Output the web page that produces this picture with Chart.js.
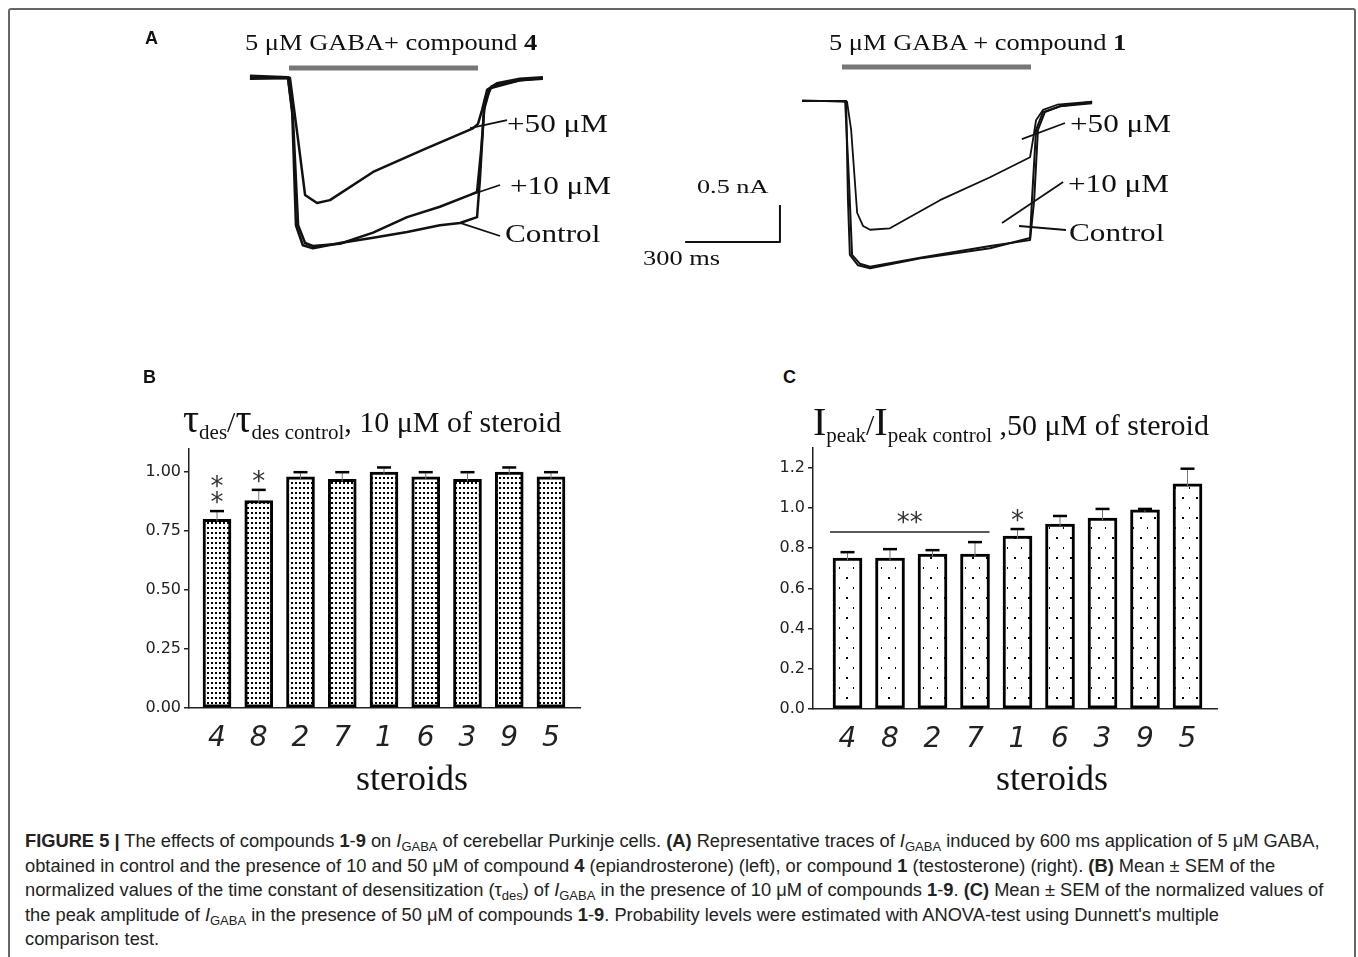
<!DOCTYPE html>
<html>
<head>
<meta charset="utf-8">
<script src="https://cdn.jsdelivr.net/npm/chart.js@4.4.0/dist/chart.umd.min.js"></script>
<style>
body{margin:0;background:#fff;}
#fig{position:relative;width:1358px;height:957px;overflow:hidden;font-family:"Liberation Serif",serif;color:#111;}
#frame{position:absolute;left:8px;top:8px;width:1344px;height:1000px;border:2px solid #666;border-radius:3px;}
canvas{position:absolute;}
.t{position:absolute;white-space:nowrap;line-height:1;}
.sx{display:inline-block;transform-origin:0 50%;}
.lab{position:absolute;font-family:"Liberation Sans",sans-serif;font-weight:bold;font-size:18px;line-height:1;}
.ttl{position:absolute;white-space:nowrap;font-size:30px;line-height:40px;}
.ttl .big{font-size:40px;}
.ttl sub{font-size:21px;vertical-align:-7px;}
.axt{position:absolute;width:200px;text-align:center;font-size:36px;line-height:1;}
.cap{position:absolute;left:25px;font-family:"Liberation Sans",sans-serif;font-size:18.3px;line-height:1;white-space:nowrap;color:#222;}
.cap sub{font-size:13px;vertical-align:-4px;line-height:0;}
</style>
</head>
<body>
<div id="fig">
<div id="frame"></div>

<canvas id="cA1" width="500" height="270" style="left:140px;top:20px;width:500px;height:270px"></canvas>
<canvas id="cA2" width="560" height="270" style="left:640px;top:20px;width:560px;height:270px"></canvas>
<canvas id="cB" width="460" height="344" style="left:130px;top:436px;width:460px;height:344px"></canvas>
<canvas id="cC" width="457" height="345" style="left:770px;top:435px;width:457px;height:345px"></canvas>

<div class="lab" style="left:145px;top:29px">A</div>
<div class="lab" style="left:143px;top:368px">B</div>
<div class="lab" style="left:783px;top:368px">C</div>

<div class="t" style="left:245px;top:31px;font-size:23px"><span class="sx" style="transform:scaleX(1.15)">5 μM GABA+ compound <b>4</b></span></div>
<div class="t" style="left:829px;top:31px;font-size:23px"><span class="sx" style="transform:scaleX(1.15)">5 μM GABA + compound <b>1</b></span></div>

<div class="t" style="left:507px;top:111px;font-size:26px"><span class="sx" style="transform:scaleX(1.2)">+50 μM</span></div>
<div class="t" style="left:510px;top:173px;font-size:26px"><span class="sx" style="transform:scaleX(1.2)">+10 μM</span></div>
<div class="t" style="left:505px;top:221px;font-size:26px"><span class="sx" style="transform:scaleX(1.2)">Control</span></div>
<div class="t" style="left:1070px;top:111px;font-size:26px"><span class="sx" style="transform:scaleX(1.2)">+50 μM</span></div>
<div class="t" style="left:1068px;top:171px;font-size:26px"><span class="sx" style="transform:scaleX(1.2)">+10 μM</span></div>
<div class="t" style="left:1069px;top:220px;font-size:26px"><span class="sx" style="transform:scaleX(1.2)">Control</span></div>
<div class="t" style="left:697px;top:177px;font-size:19px"><span class="sx" style="transform:scaleX(1.38)">0.5 nA</span></div>
<div class="t" style="left:643px;top:248px;font-size:20px"><span class="sx" style="transform:scaleX(1.32)">300 ms</span></div>

<div class="ttl" style="left:183px;top:399px"><span class="big">τ</span><sub>des</sub>/<span class="big">τ</span><sub>des control</sub>, 10 μM of steroid</div>
<div class="ttl" style="left:813px;top:402px"><span class="big">I</span><sub>peak</sub>/<span class="big">I</span><sub>peak control</sub> ,50 μM of steroid</div>
<div class="axt" style="left:312px;top:760px">steroids</div>
<div class="axt" style="left:952px;top:760px">steroids</div>

<div class="cap" style="top:832px"><b>FIGURE 5 |</b> The effects of compounds <b>1</b>-<b>9</b> on <i>I</i><sub>GABA</sub> of cerebellar Purkinje cells. <b>(A)</b> Representative traces of <i>I</i><sub>GABA</sub> induced by 600 ms application of 5 μM GABA,</div>
<div class="cap" style="top:857px">obtained in control and the presence of 10 and 50 μM of compound <b>4</b> (epiandrosterone) (left), or compound <b>1</b> (testosterone) (right). <b>(B)</b> Mean ± SEM of the</div>
<div class="cap" style="top:881px">normalized values of the time constant of desensitization (τ<sub>des</sub>) of <i>I</i><sub>GABA</sub> in the presence of 10 μM of compounds <b>1</b>-<b>9</b>. <b>(C)</b> Mean ± SEM of the normalized values of</div>
<div class="cap" style="top:906px">the peak amplitude of <i>I</i><sub>GABA</sub> in the presence of 50 μM of compounds <b>1</b>-<b>9</b>. Probability levels were estimated with ANOVA-test using Dunnett's multiple</div>
<div class="cap" style="top:930px">comparison test.</div>
</div>

<script>
// steroids in plot order
var steroidIds = ['4', '8', '2', '7', '1', '6', '3', '9', '5'];
var tauRatio = [0.80, 0.88, 0.98, 0.97, 1.00, 0.98, 0.97, 1.00, 0.98];
var tauSem = [0.035, 0.045, 0.02, 0.03, 0.02, 0.02, 0.03, 0.02, 0.02];
var tauStars = [2, 1, 0, 0, 0, 0, 0, 0, 0];
var peakRatio = [0.75, 0.75, 0.77, 0.77, 0.86, 0.92, 0.95, 0.99, 1.12];
var peakSem = [0.03, 0.045, 0.02, 0.06, 0.035, 0.04, 0.045, 0.005, 0.075];
var peakStars = [0, 0, 0, 0, 1, 0, 0, 0, 0];
var peakGroup = [0, 3];      // ** over steroids 4..7
var peakGroupLevel = 0.88;

// traces, time in ms from GABA onset, current in nA
var tL50 = [-124, -3, 3, 29, 51, 89, 130, 267, 425, 584, 600, 613, 629, 660, 733, 806];
var iL50 = [0.03, 0.01, 0, -0.84, -1.58, -1.69, -1.65, -1.27, -0.97, -0.68, -0.62, -0.43, -0.16, -0.07, -0.01, 0.01];
var tL10 = [-124, -3, 13, 29, 51, 76, 162, 267, 375, 479, 575, 597, 610, 622, 644, 733, 806];
var iL10 = [0, 0, -0.57, -1.99, -2.23, -2.27, -2.24, -2.09, -1.88, -1.74, -1.58, -1.54, -0.97, -0.30, -0.11, -0.03, 0];
var tLc = [-124, -3, 10, 22, 44, 76, 162, 267, 375, 479, 543, 597, 606, 619, 638, 733, 806];
var iLc = [-0.01, 0, -0.43, -1.99, -2.26, -2.30, -2.23, -2.16, -2.08, -1.99, -1.96, -1.88, -1.38, -0.43, -0.14, -0.03, -0.01];

var tR50 = [-127, 16, 29, 48, 67, 89, 152, 311, 470, 597, 606, 616, 638, 683, 794];
var iR50 = [0.01, -0.01, -0.39, -1.51, -1.69, -1.74, -1.72, -1.34, -1.03, -0.76, -0.53, -0.26, -0.12, -0.05, -0.01];
var tR10 = [-127, 10, 22, 32, 57, 89, 257, 470, 597, 610, 622, 644, 692, 794];
var iR10 = [0, 0, -1.07, -2.08, -2.20, -2.24, -2.11, -1.96, -1.88, -1.34, -0.39, -0.15, -0.07, -0.03];
var tRc = [-127, 13, 19, 25, 51, 89, 257, 470, 597, 603, 616, 638, 692, 794];
var iRc = [0, 0, -1.34, -2.08, -2.22, -2.26, -2.12, -1.99, -1.85, -1.34, -0.39, -0.15, -0.07, -0.01];

var gabaOn = [0, 600];
var scaleBarT = [-498, -197, -197];
var scaleBarI = [-1.905, -1.905, -1.405];

Chart.defaults.font.family = '"DejaVu Sans", sans-serif';
Chart.defaults.color = '#222';

function pts(t, v) {
    return t.map(function (x, k) { return { x: x, y: v[k] }; });
}

function trace(t, v, w, col) {
    return {
        data: pts(t, v), borderColor: col || '#111', borderWidth: w,
        pointRadius: 0, tension: 0, fill: false, borderJoinStyle: 'round'
    };
}

function traceChart(id, sets, xr, yr) {
    return new Chart(document.getElementById(id), {
        type: 'line',
        data: { datasets: sets },
        options: {
            responsive: false, animation: false, events: [],
            layout: { padding: 0 },
            plugins: { legend: { display: false }, tooltip: { enabled: false } },
            scales: {
                x: { type: 'linear', display: false, min: xr[0], max: xr[1] },
                y: { type: 'linear', display: false, min: yr[0], max: yr[1] }
            }
        }
    });
}

// left: compound 4
traceChart('cA1', [
    trace(tL50, iL50, 2.5),
    trace(tL10, iL10, 2.5),
    trace(tLc, iLc, 2.5),
    trace(gabaOn, [0.135, 0.135], 5, '#777'),
    trace([575, 692], [-0.676, -0.568], 1.8),
    trace([575, 670], [-1.581, -1.446], 1.8),
    trace([543, 670], [-1.959, -2.135], 1.8)
], [-473, 1114.3], [-2.865, 0.784]);

// right: compound 1
traceChart('cA2', [
    trace(tR50, iR50, 1.8),
    trace(tR10, iR10, 2),
    trace(tRc, iRc, 2),
    trace(gabaOn, [0.46, 0.46], 5, '#777'),
    trace(scaleBarT, scaleBarI, 2),
    trace([571, 708], [-0.514, -0.297], 1.8),
    trace([508, 702], [-1.649, -1.095], 1.8),
    trace([562, 711], [-1.689, -1.743], 1.8)
], [-641.3, 1136.5], [-2.554, 1.095]);

function dotPattern(w, h, dots) {
    var c = document.createElement('canvas');
    c.width = w; c.height = h;
    var g = c.getContext('2d');
    g.fillStyle = '#fff'; g.fillRect(0, 0, w, h);
    g.fillStyle = '#000';
    dots.forEach(function (d) { g.fillRect(d[0], d[1], 2, 2); });
    return g.createPattern(c, 'repeat');
}

var barMarks = {
    id: 'barMarks',
    afterDatasetsDraw: function (chart, args, o) {
        var ctx = chart.ctx, y = chart.scales.y;
        var bars = chart.getDatasetMeta(0).data;
        ctx.save();
        ctx.font = '26px "DejaVu Sans"';
        ctx.textAlign = 'center';
        ctx.fillStyle = '#333';
        bars.forEach(function (b, i) {
            var top = y.getPixelForValue(o.values[i] + o.errors[i]);
            ctx.strokeStyle = '#777'; ctx.lineWidth = 1;
            ctx.beginPath(); ctx.moveTo(b.x, b.y + 2); ctx.lineTo(b.x, top); ctx.stroke();
            ctx.strokeStyle = '#000'; ctx.lineWidth = 2.5;
            ctx.beginPath(); ctx.moveTo(b.x - 7, top); ctx.lineTo(b.x + 7, top); ctx.stroke();
            for (var k = 0; k < o.stars[i]; k++) {
                ctx.fillText('*', b.x, top - 14 - 16 * k + 14);
            }
        });
        if (o.group) {
            var a = bars[o.group[0]], c = bars[o.group[1]];
            var gy = y.getPixelForValue(o.groupLevel);
            var x0 = a.x - a.width / 2 - 3, x1 = c.x + c.width / 2;
            ctx.strokeStyle = '#222'; ctx.lineWidth = 1.5;
            ctx.beginPath(); ctx.moveTo(x0, gy); ctx.lineTo(x1, gy); ctx.stroke();
            ctx.fillText('**', (x0 + x1) / 2, gy - 15 + 14);
        }
        ctx.restore();
    }
};

function barChart(id, vals, errs, stars, cfg) {
    var ctx = document.getElementById(id).getContext('2d');
    return new Chart(ctx, {
        type: 'bar',
        data: {
            datasets: [{
                data: pts(vals.map(function (v, i) { return i; }), vals),
                backgroundColor: cfg.pattern,
                borderColor: '#000',
                borderWidth: 3,
                borderSkipped: false,
                barThickness: cfg.barW
            }]
        },
        options: {
            responsive: false, animation: false, events: [],
            layout: { padding: { top: 10, right: 10, left: 0, bottom: 0 } },
            plugins: {
                legend: { display: false }, tooltip: { enabled: false },
                barMarks: { values: vals, errors: errs, stars: stars, group: cfg.group, groupLevel: cfg.groupLevel }
            },
            scales: {
                x: {
                    type: 'linear', offset: false, min: cfg.xr[0], max: cfg.xr[1],
                    grid: { display: false, offset: false, drawTicks: false },
                    border: { display: true, color: '#222', width: 1.5 },
                    afterFit: function (s) { s.height = cfg.xh; },
                    ticks: {
                        stepSize: 1, includeBounds: false, autoSkip: false, maxRotation: 0, padding: 14,
                        font: { size: 28, style: 'italic' }, color: '#222',
                        callback: function (v) {
                            return (Number.isInteger(v) && v >= 0 && v < steroidIds.length) ? steroidIds[v] : '';
                        }
                    }
                },
                y: {
                    min: 0, max: cfg.yMax,
                    grid: { display: true, drawOnChartArea: false, drawTicks: true, tickLength: 5, color: '#222', lineWidth: 1.5 },
                    border: { display: true, color: '#222', width: 1.5 },
                    afterFit: function (s) { s.width = cfg.yw; },
                    ticks: {
                        stepSize: cfg.step, includeBounds: false, padding: 3,
                        font: { size: 16 }, color: '#222',
                        callback: function (v) { return v.toFixed(cfg.digits); }
                    }
                }
            }
        },
        plugins: [barMarks]
    });
}

barChart('cB', tauRatio, tauSem, tauStars, {
    pattern: dotPattern(4, 5, [[1, 1]]),
    barW: 28, xr: [-0.671, 8.695], xh: 72, yw: 59,
    yMax: 1.1, step: 0.25, digits: 2
});

barChart('cC', peakRatio, peakSem, peakStars, {
    pattern: dotPattern(14, 20, [[6, 2], [13, 12]]),
    barW: 29, xr: [-0.812, 8.694], xh: 71, yw: 43,
    yMax: 1.3, step: 0.2, digits: 1,
    group: peakGroup, groupLevel: peakGroupLevel
});
</script>
</body>
</html>
